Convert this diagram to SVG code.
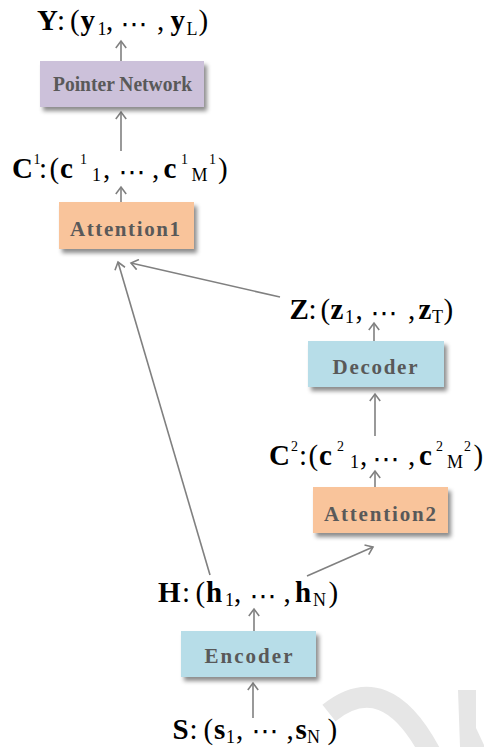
<svg xmlns="http://www.w3.org/2000/svg" width="484" height="747" viewBox="0 0 484 747">
<style>
.lbl{font-family:"Liberation Serif","Times New Roman",serif;font-size:29px;fill:#000}
.b{font-weight:bold}
.sub{font-size:18px}
.sup{font-size:14px}
.dots{font-family:"DejaVu Sans",sans-serif;font-size:27px}
.box{stroke:none;filter:url(#sh)}
.bt{font-family:"Liberation Serif","Times New Roman",serif;font-weight:bold;font-size:21px;fill:#595959;text-anchor:middle}
.c{stroke:#808080;stroke-width:1.6;fill:none;marker-end:url(#ah)}
</style>
<defs>
<filter id="sh" x="-10%" y="-20%" width="130%" height="150%">
<feDropShadow dx="3" dy="4" stdDeviation="2" flood-color="#000" flood-opacity="0.45"/>
</filter>
<marker id="ah" viewBox="0 0 12 12" refX="10" refY="6" markerWidth="12" markerHeight="12" markerUnits="userSpaceOnUse" orient="auto">
<path d="M3,0.8 L10,6 L3,11.2" fill="none" stroke="#808080" stroke-width="1.6"/>
</marker>
</defs>
<rect width="484" height="747" fill="#fff"/>
<g id="watermark" fill="#e6e6e6">
<path d="M329,713 Q385,668 430,752" fill="none" stroke="#e6e6e6" stroke-width="21"/>
<path d="M458,690 L476,690 L476,728 L484,745 L484,747 L460,747 Z"/>
</g>
<g id="connectors">
<line class="c" x1="121" y1="61" x2="121" y2="41"/>
<line class="c" x1="121" y1="151" x2="121" y2="112"/>
<line class="c" x1="121" y1="202" x2="121" y2="187"/>
<line class="c" x1="374" y1="341" x2="374" y2="323"/>
<line class="c" x1="375" y1="436" x2="375" y2="394"/>
<line class="c" x1="375" y1="487" x2="375" y2="471"/>
<line class="c" x1="254" y1="631" x2="254" y2="609"/>
<line class="c" x1="253" y1="718" x2="253" y2="683"/>
<line class="c" x1="210" y1="575" x2="118" y2="262"/>
<line class="c" x1="280" y1="297" x2="131" y2="263"/>
<line class="c" x1="307" y1="576" x2="373" y2="547"/>
</g>
<g id="pointer-network">
<rect class="box" x="40" y="61" width="164" height="46" fill="#ccc1da"/>
<text class="bt" x="122.5" y="90.5" font-size="20" textLength="139" lengthAdjust="spacingAndGlyphs">Pointer Network</text>
</g>
<g id="attention1">
<rect class="box" x="59" y="202" width="135" height="47" fill="#f9c49b"/>
<text class="bt" x="125" y="236" font-size="22" textLength="110" lengthAdjust="spacing">Attention1</text>
</g>
<g id="decoder">
<rect class="box" x="308" y="341" width="136" height="46" fill="#b7dde8"/>
<text class="bt" x="375" y="373.5" textLength="85" lengthAdjust="spacing">Decoder</text>
</g>
<g id="attention2">
<rect class="box" x="313" y="487" width="135" height="46" fill="#f9c49b"/>
<text class="bt" x="380" y="520.5" textLength="112" lengthAdjust="spacing">Attention2</text>
</g>
<g id="encoder">
<rect class="box" x="181" y="631" width="135" height="46" fill="#b7dde8"/>
<text class="bt" x="248.5" y="662.5" textLength="88" lengthAdjust="spacing">Encoder</text>
</g>
<g id="label-Y">
<text class="lbl" y="30"><tspan class="b" x="37">Y</tspan><tspan x="57">:</tspan><tspan x="70">(</tspan><tspan class="b" x="80.5">y</tspan><tspan class="sub" x="97.5" y="35">1</tspan><tspan x="106" y="30">,</tspan><tspan class="dots" x="120.5" y="33">⋯</tspan><tspan x="157" y="30">,</tspan><tspan class="b" x="170.5">y</tspan><tspan class="sub" x="186.5" y="35">L</tspan><tspan x="198.5" y="30">)</tspan></text>
</g>
<g id="label-C1">
<text class="lbl" y="178"><tspan class="b" x="12">C</tspan><tspan class="sup" x="33.5" y="164">1</tspan><tspan x="39" y="178">:</tspan><tspan x="49.5">(</tspan><tspan class="b" x="60">c</tspan><tspan class="sup" x="80" y="164">1</tspan><tspan class="sub" x="92" y="181">1</tspan><tspan x="103" y="178">,</tspan><tspan class="dots" x="118.5" y="181">⋯</tspan><tspan x="152" y="178">,</tspan><tspan class="b" x="163.5">c</tspan><tspan class="sup" x="181" y="164">1</tspan><tspan class="sub" x="191.5" y="181">M</tspan><tspan class="sup" x="209" y="164">1</tspan><tspan x="218" y="178">)</tspan></text>
</g>
<g id="label-Z">
<text class="lbl" y="319"><tspan class="b" x="289.5">Z</tspan><tspan x="308.5">:</tspan><tspan x="320.5">(</tspan><tspan class="b" x="330.5">z</tspan><tspan class="sub" x="345" y="323">1</tspan><tspan x="355.5" y="319">,</tspan><tspan class="dots" x="370.5" y="322">⋯</tspan><tspan x="408" y="319">,</tspan><tspan class="b" x="418.5">z</tspan><tspan class="sub" x="432" y="323">T</tspan><tspan x="443.5" y="319">)</tspan></text>
</g>
<g id="label-C2">
<text class="lbl" y="465"><tspan class="b" x="269">C</tspan><tspan class="sup" x="291" y="451">2</tspan><tspan x="299" y="465">:</tspan><tspan x="308.5">(</tspan><tspan class="b" x="319">c</tspan><tspan class="sup" x="337" y="451">2</tspan><tspan class="sub" x="350" y="468">1</tspan><tspan x="360" y="465">,</tspan><tspan class="dots" x="372.5" y="468">⋯</tspan><tspan x="408" y="465">,</tspan><tspan class="b" x="419">c</tspan><tspan class="sup" x="436" y="451">2</tspan><tspan class="sub" x="447" y="468">M</tspan><tspan class="sup" x="464" y="451">2</tspan><tspan x="473.5" y="465">)</tspan></text>
</g>
<g id="label-H">
<text class="lbl" y="602"><tspan class="b" x="158">H</tspan><tspan x="182">:</tspan><tspan x="195.5">(</tspan><tspan class="b" x="206">h</tspan><tspan class="sub" x="225" y="605.5">1</tspan><tspan x="234" y="602">,</tspan><tspan class="dots" x="249.5" y="605">⋯</tspan><tspan x="283.5" y="602">,</tspan><tspan class="b" x="295">h</tspan><tspan class="sub" x="313" y="605.5">N</tspan><tspan x="328.5" y="602">)</tspan></text>
</g>
<g id="label-S">
<text class="lbl" y="739"><tspan class="b" x="172.5">S</tspan><tspan x="189.5">:</tspan><tspan x="203.5">(</tspan><tspan class="b" x="214">s</tspan><tspan class="sub" x="226" y="742.5">1</tspan><tspan x="236" y="739">,</tspan><tspan class="dots" x="251.5" y="740">⋯</tspan><tspan x="286.5" y="739">,</tspan><tspan class="b" x="295.5">s</tspan><tspan class="sub" x="307" y="742.5">N</tspan><tspan x="327.5" y="739">)</tspan></text>
</g>
</svg>
